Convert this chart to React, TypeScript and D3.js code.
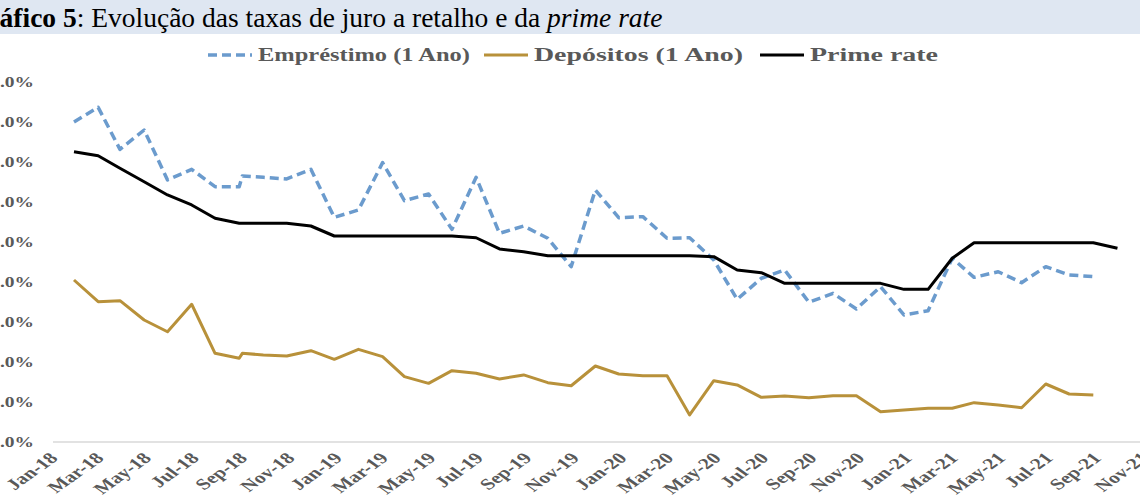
import React from 'react'
import * as d3 from 'd3'

// dates of the observations (one extra reading early Aug-18)
const dates = [
  '2018-01-01', '2018-02-01', '2018-03-01', '2018-04-01', '2018-05-01', '2018-06-01',
  '2018-07-01', '2018-08-01', '2018-08-05', '2018-09-01', '2018-10-01', '2018-11-01', '2018-12-01',
  '2019-01-01', '2019-02-01', '2019-03-01', '2019-04-01', '2019-05-01', '2019-06-01',
  '2019-07-01', '2019-08-01', '2019-09-01', '2019-10-01', '2019-11-01', '2019-12-01',
  '2020-01-01', '2020-02-01', '2020-03-01', '2020-04-01', '2020-05-01', '2020-06-01',
  '2020-07-01', '2020-08-01', '2020-09-01', '2020-10-01', '2020-11-01', '2020-12-01',
  '2021-01-01', '2021-02-01', '2021-03-01', '2021-04-01', '2021-05-01', '2021-06-01',
  '2021-07-01', '2021-08-01', '2021-09-01',
]

const emprestimo = [
  24.0, 25.1, 21.95, 23.4, 19.65, 20.45, 19.15, 19.15, 19.95, 19.85, 19.73, 20.45, 16.85,
  17.4, 20.95, 18.1, 18.6, 15.95, 19.85, 15.65, 16.2, 15.28, 13.15, 18.9, 16.82,
  16.9, 15.28, 15.32, 13.65, 10.7, 12.28, 12.9, 10.48, 11.15, 9.98, 11.65, 9.53,
  9.85, 13.78, 12.35, 12.77, 11.95, 13.15, 12.53, 12.4,
]

const depositos = [
  12.15, 10.52, 10.6, 9.15, 8.27, 10.33, 6.65, 6.28, 6.65, 6.53, 6.45, 6.85, 6.2,
  6.95, 6.4, 4.9, 4.4, 5.35, 5.15, 4.73, 5.03, 4.45, 4.22, 5.7, 5.1,
  4.97, 4.97, 2.03, 4.6, 4.28, 3.35, 3.45, 3.32, 3.47, 3.47, 2.27, 2.4,
  2.53, 2.53, 2.95, 2.78, 2.57, 4.35, 3.6, 3.53,
]

const primeRate = [
  21.77, 21.47, 20.53, 19.52, 18.53, 17.78, 16.78, 16.4, 16.4, 16.4, 16.4, 16.2, 15.45,
  15.45, 15.45, 15.45, 15.45, 15.45, 15.32, 14.48, 14.27, 13.97, 13.97, 13.97, 13.97,
  13.97, 13.97, 13.97, 13.9, 12.9, 12.7, 11.9, 11.9, 11.9, 11.9, 11.9, 11.45,
  11.45, 13.78, 14.95, 14.95, 14.95, 14.95, 14.95, 14.95, 14.53,
]

const yTicks = [0, 3, 6, 9, 12, 15, 18, 21, 24, 27]

const xTickLabels = [
  'Jan-18', 'Mar-18', 'May-18', 'Jul-18', 'Sep-18', 'Nov-18',
  'Jan-19', 'Mar-19', 'May-19', 'Jul-19', 'Sep-19', 'Nov-19',
  'Jan-20', 'Mar-20', 'May-20', 'Jul-20', 'Sep-20', 'Nov-20',
  'Jan-21', 'Mar-21', 'May-21', 'Jul-21', 'Sep-21', 'Nov-21',
]

const seriesNames = ['Empréstimo (1 Ano)', 'Depósitos (1 Ano)', 'Prime rate']
const seriesColors = ['#6b9bcd', '#b8913a', '#000000']

const W = 1140
const H = 500
const SX = 1.3 // horizontal stretch of the source image
const gray = '#595959'
const serif = 'Liberation Serif, DejaVu Serif, serif'

export default function App() {
  const parse = d3.utcParse('%Y-%m-%d')
  const parseTick = d3.utcParse('%b-%y')
  const x = d3
    .scaleUtc()
    .domain([parse('2018-01-01') as Date, parse('2021-11-01') as Date])
    .range([74, 1165])
  const y = d3.scaleLinear().domain([0, 27]).range([442, 82])

  const line = d3
    .line<number>()
    .x((_, i) => x(parse(dates[i]) as Date))
    .y((d) => y(d))

  const series = [emprestimo, depositos, primeRate]
  const legendX = [208, 484, 760]
  const legendW = [212, 209, 128]

  return (
    <svg
      width={W}
      height={H}
      style={{position: 'absolute', left: 0, top: 0, background: '#fff'}}
      fontFamily={serif}>
      <rect x={0} y={0} width={W} height={34} fill="#dfe7f2" />
      <text x={-34} y={27} fontSize={27.5} fill="#000" fontFamily={serif}>
        <tspan fontWeight="bold">Gráfico 5</tspan>
        <tspan fontWeight="normal">: Evolução das taxas de juro a retalho e da </tspan>
        <tspan fontStyle="italic">prime rate</tspan>
      </text>

      {/* legend */}
      {seriesNames.map((name, i) => (
        <g key={name}>
          <line
            x1={legendX[i]}
            x2={legendX[i] + 44}
            y1={55}
            y2={55}
            stroke={seriesColors[i]}
            strokeWidth={i === 0 ? 3.5 : 3}
            strokeDasharray={i === 0 ? '9,5' : undefined}
          />
          <text
            x={legendX[i] + 50}
            y={61}
            fontSize={18}
            fontWeight="bold"
            fill={gray}
            textLength={legendW[i]}
            lengthAdjust="spacingAndGlyphs">
            {name}
          </text>
        </g>
      ))}

      {/* y axis labels */}
      {yTicks.map((t) => (
        <g key={t} transform={`translate(34,${y(t) + 5}) scale(${SX},1)`}>
          <text fontSize={15} fontWeight="bold" fill={gray} textAnchor="end">
            {d3.format('.1f')(t)}%
          </text>
        </g>
      ))}

      {/* x axis */}
      <line x1={53} x2={W} y1={y(0)} y2={y(0)} stroke="#d9d9d9" strokeWidth={1.5} />
      {xTickLabels.map((lab) => {
        const px = x(parseTick(lab) as Date)
        return (
          <g key={lab} transform={`translate(${px - 15},${y(0) + 17}) scale(1.4,1) rotate(-45)`}>
            <text fontSize={15.5} fontWeight="bold" fill={gray} textAnchor="end">
              {lab}
            </text>
          </g>
        )
      })}

      {/* series */}
      {series.map((s, i) => (
        <path
          key={seriesNames[i]}
          d={line(s) || ''}
          fill="none"
          stroke={seriesColors[i]}
          strokeWidth={i === 0 ? 3.5 : 3}
          strokeDasharray={i === 0 ? '9,5' : undefined}
          strokeLinejoin="round"
        />
      ))}
    </svg>
  )
}
